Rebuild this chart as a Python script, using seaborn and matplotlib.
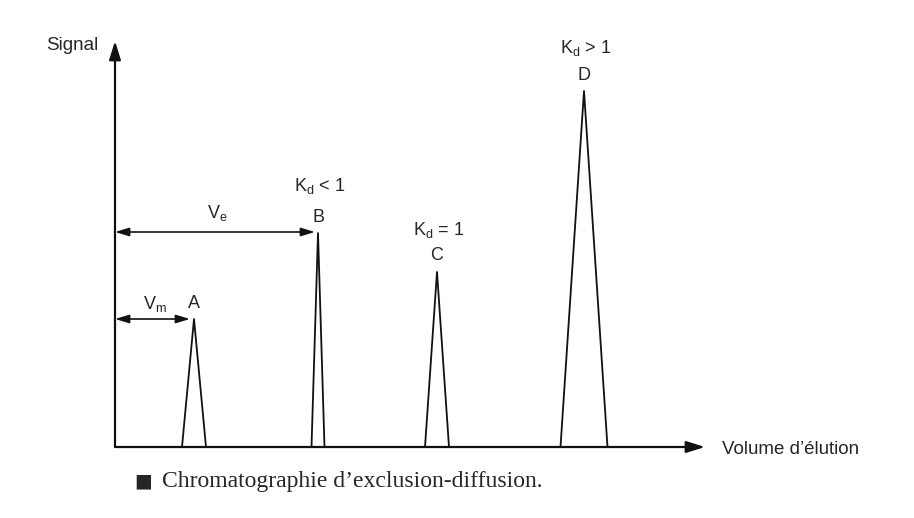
import pandas as pd
import matplotlib.pyplot as plt
import seaborn as sns

# peak data (elution volume units, arbitrary signal units)
peaks = ['A', 'B', 'C', 'D']
centers = [7.9, 20.3, 32.2, 46.9]
half_widths = [1.2, 0.65, 1.2, 2.35]
heights = [12.8, 21.4, 17.5, 35.6]
kd_labels = [None, r'K$_\mathregular{d}$ < 1', r'K$_\mathregular{d}$ = 1', r'K$_\mathregular{d}$ > 1']
kd_offset = [0, 4.7, 4.2, 4.3]

sns.set_style('white')
plt.rcParams['font.family'] = ['Liberation Sans', 'DejaVu Sans']
plt.rcParams['mathtext.fontset'] = 'custom'
plt.rcParams['mathtext.rm'] = 'Liberation Sans'

# triangular peaks
rows = []
for p, c, w, h in zip(peaks, centers, half_widths, heights):
    rows += [(p, c - w, 0), (p, c, h), (p, c + w, 0)]
df = pd.DataFrame(rows, columns=['peak', 'volume', 'signal'])

fig = plt.figure(figsize=(9.14, 5.18), dpi=100)
ax = fig.add_axes([0, 0, 1, 1])
sns.lineplot(data=df, x='volume', y='signal', units='peak', estimator=None,
             color='#111111', linewidth=1.3, ax=ax)
ax.set_xlim(-11.5, 79.9)
ax.set_ylim(-7.1, 44.7)
ax.axis('off')

# axes arrows
axis_arrow = dict(arrowstyle='-|>,head_length=0.8,head_width=0.25', color='#111111',
                  lw=1.6, mutation_scale=14, shrinkA=0, shrinkB=0)
ax.annotate('', xy=(0, 40.6), xytext=(0, 0), arrowprops=axis_arrow)
ax.annotate('', xy=(59.0, 0), xytext=(0, 0), arrowprops=axis_arrow)
ax.text(-4.3, 40.2, 'Signal', fontsize=13.5, ha='center', va='center')
ax.text(60.7, -0.3, 'Volume d\u2019élution', fontsize=13.5, ha='left', va='center')

# peak labels
for p, c, h, kd, off in zip(peaks, centers, heights, kd_labels, kd_offset):
    ax.text(c, h + 1.6, p, fontsize=13, ha='center', va='center')
    if kd:
        ax.text(c + 0.2, h + off, kd, fontsize=13, ha='center', va='center')

# volume arrows
dbl = dict(arrowstyle='<|-|>,head_length=0.6,head_width=0.18', color='#111111',
           lw=1.2, mutation_scale=14, shrinkA=0, shrinkB=0)
ax.annotate('', xy=(centers[0] - 0.4, heights[0]), xytext=(0, heights[0]), arrowprops=dbl)
ax.annotate('', xy=(centers[1] - 0.3, 21.5), xytext=(0, 21.5), arrowprops=dbl)
ax.text(4.0, heights[0] + 1.5, r'V$_\mathregular{m}$', fontsize=13, ha='center', va='center')
ax.text(10.2, 23.4, r'V$_\mathregular{e}$', fontsize=13, ha='center', va='center')

# caption
ax.text(2.8, -3.4, '\u25a0', fontsize=13.5, ha='center', va='center', family='DejaVu Sans')
ax.text(4.7, -3.4, 'Chromatographie d\u2019exclusion-diffusion.', fontsize=17,
        ha='left', va='center', family='Liberation Serif')

fig.savefig('out.png', dpi=100, facecolor='white')
